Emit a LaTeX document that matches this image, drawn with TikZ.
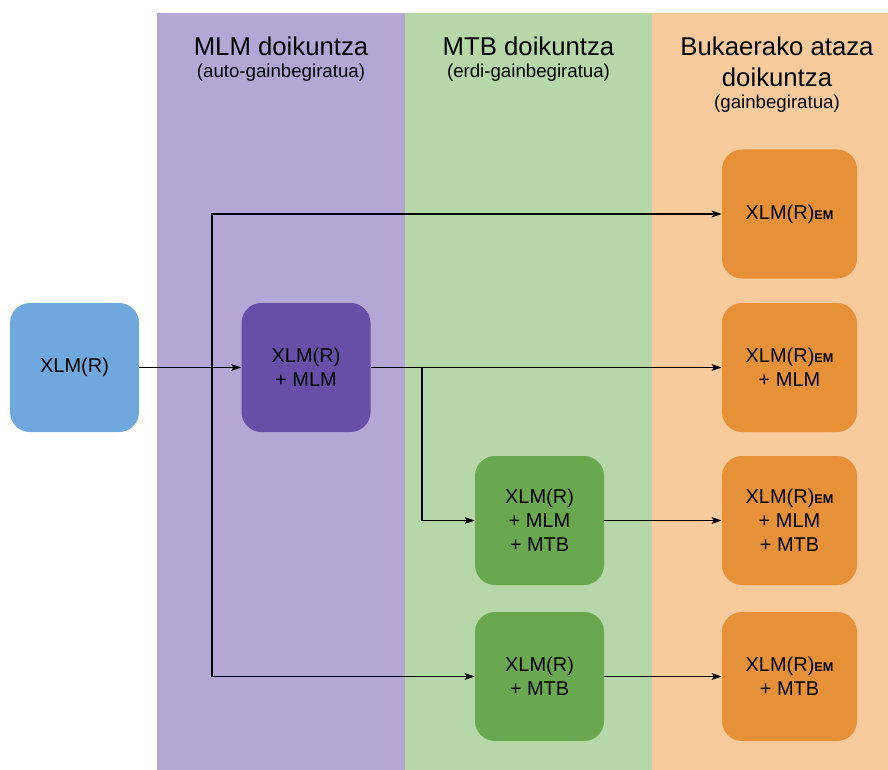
\documentclass[tikz,border=0pt]{standalone}
\usepackage{fontspec}
\setmainfont{Liberation Sans}
\usetikzlibrary{arrows.meta}

% lane backgrounds and box fills
\definecolor{laneMLM}{HTML}{B4A7D6}
\definecolor{laneMTB}{HTML}{B6D7A8}
\definecolor{laneEnd}{HTML}{F9CB9C}
\definecolor{boxBase}{HTML}{6FA8DC}
\definecolor{boxMLM}{HTML}{674EA7}
\definecolor{boxMTB}{HTML}{6AA84F}
\definecolor{boxEnd}{HTML}{E69138}

% small bold "EM" tag set on the baseline
\newcommand\tagEM{{\fontsize{9.5pt}{10pt}\selectfont\bfseries EM}}

\tikzset{
  box/.style={rounded corners=15pt, minimum width=96.75pt, minimum height=96.75pt,
    inner sep=0pt, align=center, font=\fontsize{15pt}{18pt}\selectfont},
  basebox/.style={box, fill=boxBase},
  mlmbox/.style={box, fill=boxMLM},
  mtbbox/.style={box, fill=boxMTB},
  endbox/.style={box, fill=boxEnd, minimum width=101.25pt},
  conn/.style={draw=black, line width=0.8pt,
    -{Stealth[length=7.5pt,width=5pt,inset=1.5pt]}},
  lanetitle/.style={anchor=base, inner sep=0pt, font=\fontsize{19.3pt}{23pt}\selectfont},
  lanesub/.style={anchor=base, inner sep=0pt, font=\fontsize{14pt}{17pt}\selectfont},
}

\begin{document}
\begin{tikzpicture}[x=0.75pt, y=-0.75pt]
  \useasboundingbox[fill=white] (0,0) rectangle (888,770);

  % lanes
  \fill[laneMLM] (157,13) rectangle (405,770);
  \fill[laneMTB] (405,13) rectangle (652,770);
  \fill[laneEnd] (652,13) rectangle (888,770);

  % lane headings
  \node[lanetitle] (t1) at (281,56) {MLM doikuntza};
  \node[lanesub] (s1) at (281,78) {(auto-gainbegiratua)};
  \node[lanetitle] (t2) at (528.5,56) {MTB doikuntza};
  \node[lanesub] (s2) at (528.5,78) {(erdi-gainbegiratua)};
  \node[lanetitle] (t3a) at (777,56) {Bukaerako ataza};
  \node[lanetitle] (t3b) at (777,86.7) {doikuntza};
  \node[lanesub] (s3) at (777,108.5) {(gainbegiratua)};

  % models
  \node[basebox] (xlmr) at (74.5,367.5) {XLM(R)};
  \node[mlmbox] (mlm) at (306,367.5) {XLM(R)\\+ MLM};
  \node[mtbbox] (mlmmtb) at (539.5,520.5) {XLM(R)\\+ MLM\\+ MTB};
  \node[mtbbox] (mtb) at (539.5,676.5) {XLM(R)\\+ MTB};
  \node[endbox] (em1) at (789.5,214) {XLM(R)\tagEM};
  \node[endbox] (em2) at (789.5,367.5) {XLM(R)\tagEM\\+ MLM};
  \node[endbox] (em3) at (789.5,520.5) {XLM(R)\tagEM\\+ MLM\\+ MTB};
  \node[endbox] (em4) at (789.5,676.5) {XLM(R)\tagEM\\+ MTB};

  % branch points
  \coordinate (split1) at (212,367.5);
  \coordinate (split2) at (422,367.5);

  % connectors
  \draw[conn] (xlmr.east) -- (mlm.west);
  \draw[conn] (split1) |- (em1.west);
  \draw[conn] (split1) |- (mtb.west);
  \draw[conn] (mlm.east) -- (em2.west);
  \draw[conn] (split2) |- (mlmmtb.west);
  \draw[conn] (mlmmtb.east) -- (em3.west);
  \draw[conn] (mtb.east) -- (em4.west);
\end{tikzpicture}
\end{document}
